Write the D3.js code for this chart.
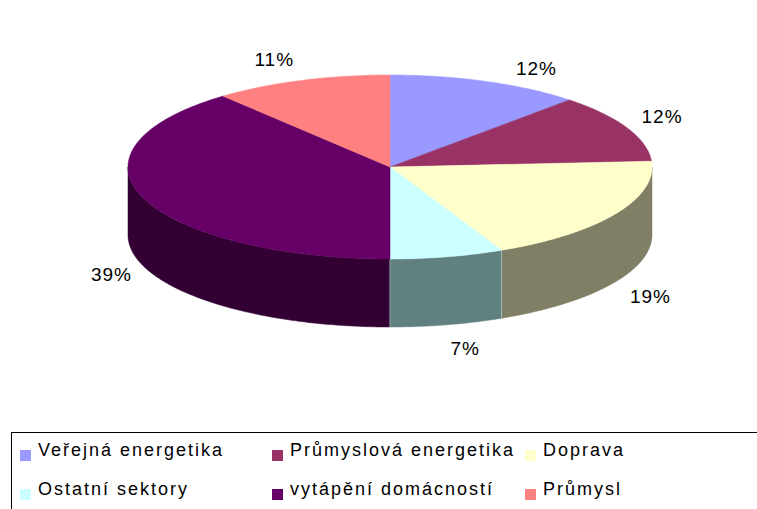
<!DOCTYPE html>
<html><head><meta charset="utf-8">
<script src="https://cdn.jsdelivr.net/npm/d3@7"></script>
<style>
html,body{margin:0;padding:0;background:#fff;}
svg{display:block;font-family:"Liberation Sans",Arial,sans-serif;}
</style></head>
<body>
<svg id="c" width="757" height="509"></svg>
<script>
// ---- data ----
const categories = ["Veřejná energetika","Průmyslová energetika","Doprava","Ostatní sektory","vytápění domácností","Průmysl"];
const values = [12, 12, 19, 7, 39, 11];
const labels = ["12%","12%","19%","7%","39%","11%"];
const topColors = ["#9999FF","#993366","#FFFFCC","#CCFFFF","#660066","#FF8080"];
const sideColors = ["#4D4D80","#4D1A33","#807F66","#618080","#330033","#804040"];

// ---- layout ----
const cx = 390, cy = 167, rx = 262, ry = 92, depth = 68;
const labelNudge = [[15,6],[0,-3],[0,4],[-17,4],[3,2],[8,-2]];
const svg = d3.select("#c");
const pie = d3.pie().sort(null).value(d => d)(values);
const ex = a => cx + rx * Math.sin(a);
const ey = a => cy - ry * Math.cos(a);
const line = d3.line();

function arcPts(a0, a1, dy) {
  const n = Math.max(2, Math.ceil((a1 - a0) / 0.01));
  const pts = [];
  for (let i = 0; i <= n; i++) {
    const a = a0 + (a1 - a0) * i / n;
    pts.push([ex(a), ey(a) + dy]);
  }
  return pts;
}

// side walls (front half only)
const gSide = svg.append("g");
pie.forEach((p, i) => {
  const a0 = Math.max(p.startAngle, Math.PI / 2);
  const a1 = Math.min(p.endAngle, 3 * Math.PI / 2);
  if (a1 <= a0) return;
  const top = arcPts(a0, a1, 0);
  const bot = arcPts(a0, a1, depth).reverse();
  gSide.append("path")
    .attr("d", line(top.concat(bot)) + "Z")
    .attr("fill", sideColors[i])
    .attr("stroke", sideColors[i]).attr("stroke-width", 0.5);
});
pie.forEach((p) => {
  const a = p.startAngle;
  if (a > Math.PI / 2 && a < 3 * Math.PI / 2) {
    gSide.append("line")
      .attr("x1", ex(a)).attr("y1", ey(a)).attr("x2", ex(a)).attr("y2", ey(a) + depth)
      .attr("stroke", "#9fb8b8").attr("stroke-width", 1);
  }
});

// top faces
const gTop = svg.append("g");
pie.forEach((p, i) => {
  const pts = [[cx, cy]].concat(arcPts(p.startAngle, p.endAngle, 0));
  gTop.append("path")
    .attr("d", line(pts) + "Z")
    .attr("fill", topColors[i])
    .attr("stroke", topColors[i]).attr("stroke-width", 0.5);
});

// labels
const gLab = svg.append("g");
pie.forEach((p, i) => {
  const m = (p.startAngle + p.endAngle) / 2;
  const s = Math.sin(m), c = Math.cos(m);
  const x = ex(m) + 35 * Math.sign(s) + labelNudge[i][0];
  const y = ey(m) - 20 * c + (c < 0 ? depth : 0) + labelNudge[i][1];
  gLab.append("text")
    .attr("x", x).attr("y", y)
    .attr("text-anchor", "middle").attr("dominant-baseline", "central")
    .attr("font-size", 19).attr("letter-spacing", 1)
    .attr("fill", "#000")
    .text(labels[i]);
});

// legend
const gLeg = svg.append("g");
gLeg.append("rect").attr("x", 11.5).attr("y", 432.5).attr("width", 800).attr("height", 120)
  .attr("fill", "none").attr("stroke", "#000").attr("stroke-width", 1);
const colX = [20, 272, 525];
const rowY = [450, 489];
categories.forEach((name, i) => {
  const x = colX[i % 3], y = rowY[Math.floor(i / 3)];
  gLeg.append("rect").attr("x", x).attr("y", y).attr("width", 11).attr("height", 11)
    .attr("fill", topColors[i]);
  gLeg.append("text").attr("x", x + 18).attr("y", y)
    .attr("dominant-baseline", "central")
    .attr("font-size", 18).attr("letter-spacing", 2)
    .attr("fill", "#000").text(name);
});
</script>
</body></html>
